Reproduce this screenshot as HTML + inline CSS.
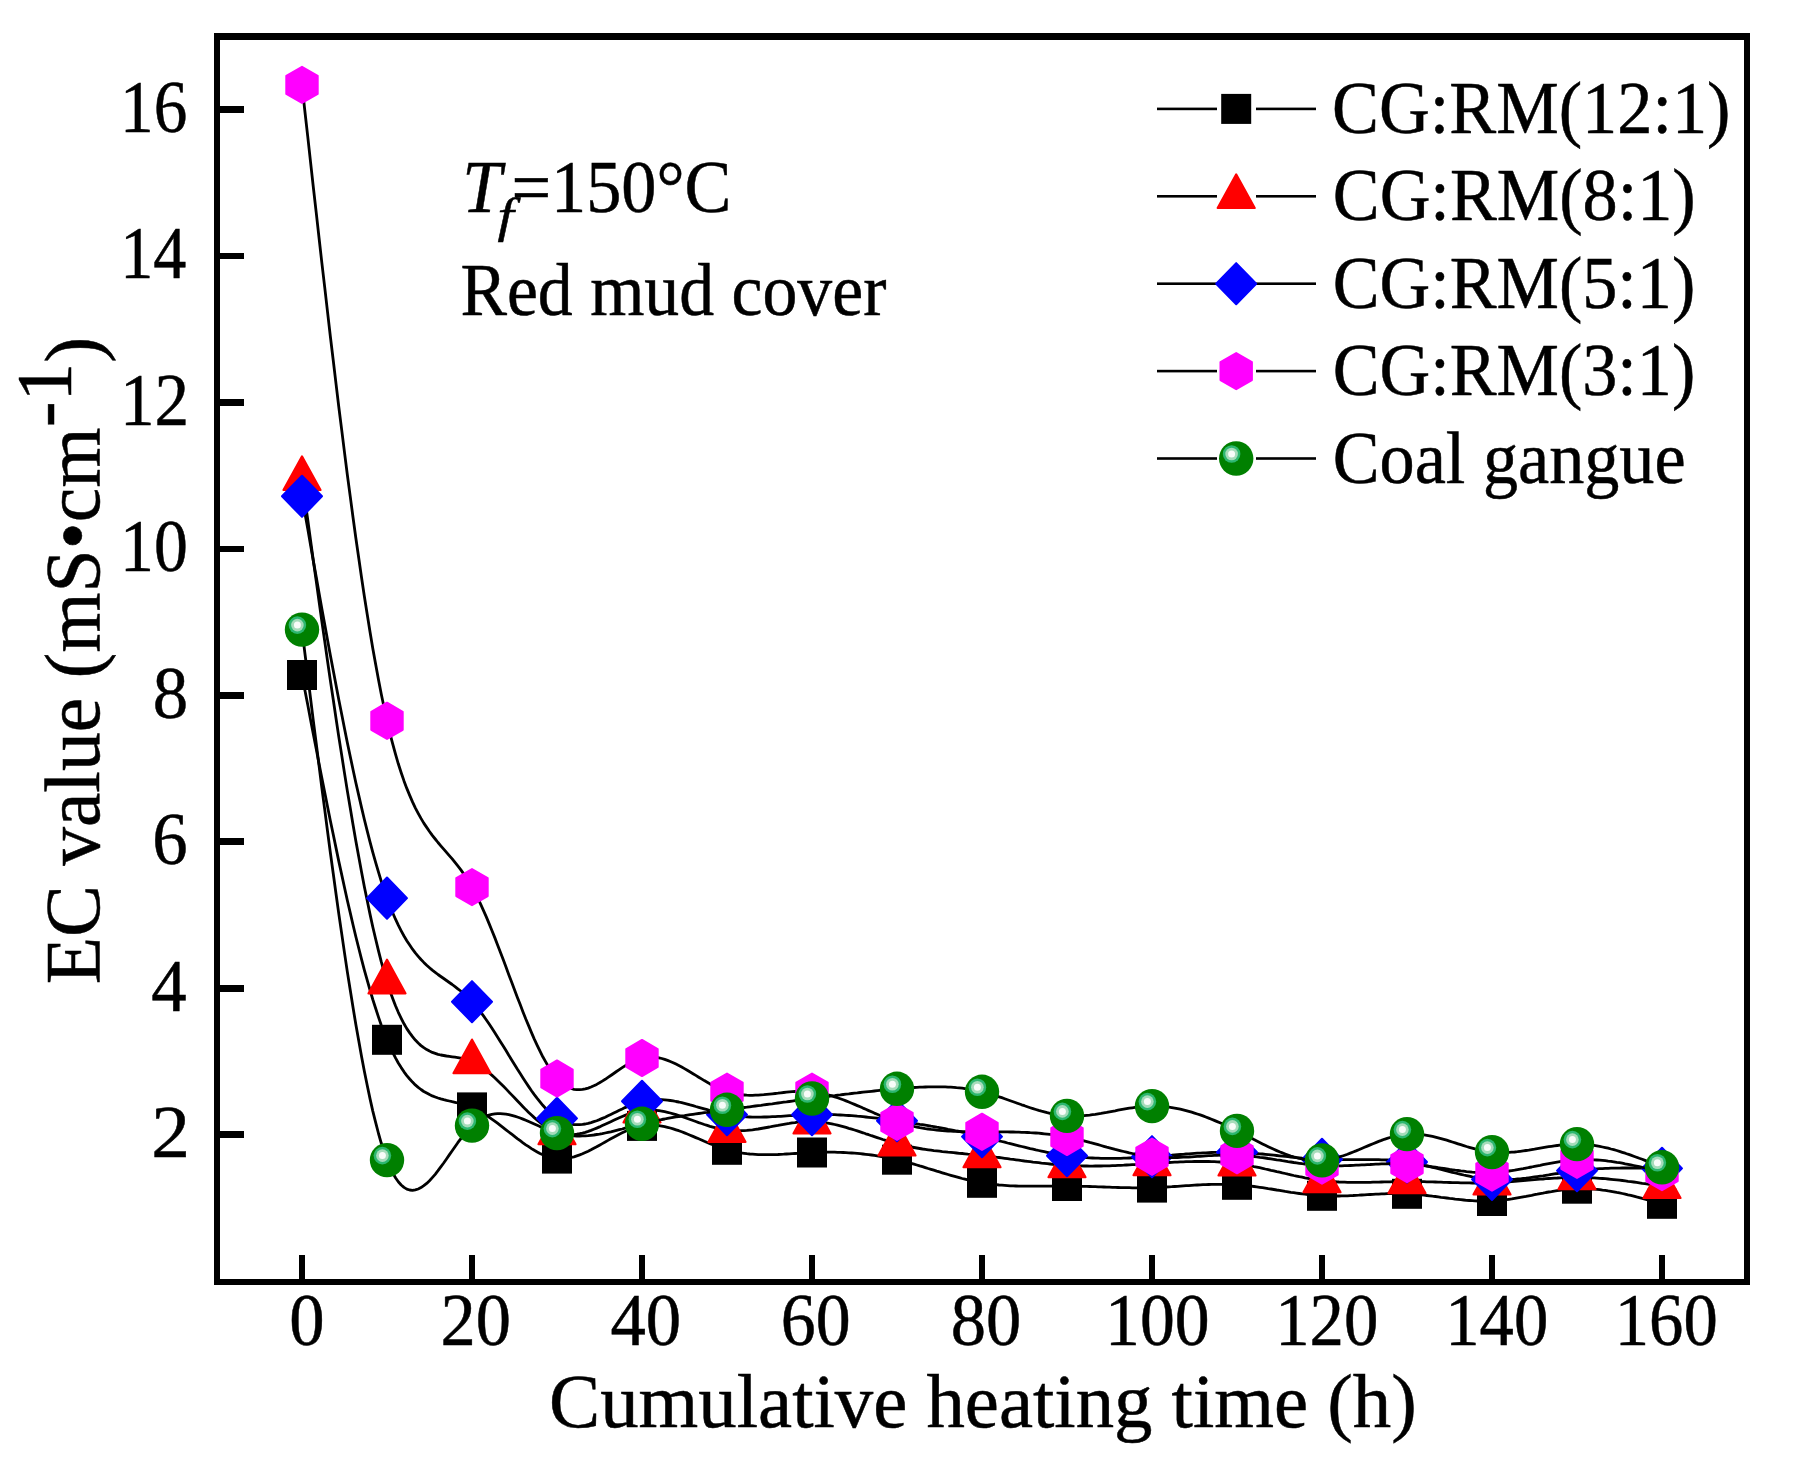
<!DOCTYPE html>
<html><head><meta charset="utf-8"><title>EC value vs cumulative heating time</title>
<style>
html,body{margin:0;padding:0;background:#fff;}
body{width:1793px;height:1466px;overflow:hidden;}
svg{display:block;font-family:"Liberation Serif",serif;fill:#000;}
text{stroke:#000;stroke-width:0.5px;}
</style></head><body>
<svg width="1793" height="1466" viewBox="0 0 1793 1466">
<rect width="1793" height="1466" fill="#fff"/>
<path d="M302.0 675.0L304.8 689.8L307.7 704.6L310.5 719.4L313.3 734.1L316.2 748.8L319.0 763.4L321.8 777.8L324.7 792.2L327.5 806.4L330.3 820.4L333.2 834.3L336.0 847.9L338.8 861.4L341.7 874.6L344.5 887.5L347.3 900.2L350.2 912.6L353.0 924.7L355.8 936.5L358.7 948.0L361.5 959.1L364.3 969.8L367.2 980.1L370.0 990.0L372.8 999.5L375.7 1008.5L378.5 1017.1L381.3 1025.2L384.2 1032.7L387.0 1039.8L389.8 1046.3L392.7 1052.4L395.5 1057.9L398.3 1063.0L401.2 1067.6L404.0 1071.8L406.8 1075.6L409.7 1079.0L412.5 1082.1L415.3 1084.9L418.2 1087.4L421.0 1089.5L423.8 1091.5L426.7 1093.1L429.5 1094.6L432.3 1095.9L435.2 1097.0L438.0 1098.0L440.8 1098.9L443.7 1099.7L446.5 1100.4L449.3 1101.0L452.2 1101.7L455.0 1102.3L457.8 1103.0L460.7 1103.7L463.5 1104.5L466.3 1105.3L469.2 1106.3L472.0 1107.4L474.8 1108.7L477.7 1110.1L480.5 1111.7L483.3 1113.4L486.2 1115.2L489.0 1117.1L491.8 1119.1L494.7 1121.1L497.5 1123.2L500.3 1125.4L503.2 1127.6L506.0 1129.8L508.8 1132.0L511.7 1134.2L514.5 1136.4L517.3 1138.6L520.2 1140.7L523.0 1142.8L525.8 1144.8L528.7 1146.7L531.5 1148.6L534.3 1150.3L537.2 1151.9L540.0 1153.4L542.8 1154.7L545.7 1155.8L548.5 1156.8L551.3 1157.6L554.2 1158.2L557.0 1158.6L559.8 1158.8L562.7 1158.8L565.5 1158.5L568.3 1158.1L571.2 1157.5L574.0 1156.8L576.8 1155.9L579.7 1154.9L582.5 1153.8L585.3 1152.5L588.2 1151.2L591.0 1149.8L593.8 1148.3L596.7 1146.8L599.5 1145.2L602.3 1143.6L605.2 1142.0L608.0 1140.4L610.8 1138.8L613.7 1137.2L616.5 1135.7L619.3 1134.2L622.2 1132.8L625.0 1131.5L627.8 1130.2L630.7 1129.1L633.5 1128.1L636.3 1127.2L639.2 1126.5L642.0 1125.9L644.8 1125.5L647.7 1125.2L650.5 1125.1L653.3 1125.2L656.2 1125.3L659.0 1125.7L661.8 1126.1L664.7 1126.6L667.5 1127.3L670.3 1128.0L673.2 1128.9L676.0 1129.8L678.8 1130.7L681.7 1131.8L684.5 1132.9L687.3 1134.0L690.2 1135.2L693.0 1136.4L695.8 1137.6L698.7 1138.8L701.5 1140.0L704.3 1141.3L707.2 1142.5L710.0 1143.6L712.8 1144.8L715.7 1145.9L718.5 1147.0L721.3 1148.0L724.2 1148.9L727.0 1149.8L729.8 1150.5L732.7 1151.2L735.5 1151.9L738.3 1152.4L741.2 1152.9L744.0 1153.3L746.8 1153.7L749.7 1154.0L752.5 1154.2L755.3 1154.4L758.2 1154.6L761.0 1154.7L763.8 1154.7L766.7 1154.7L769.5 1154.7L772.3 1154.7L775.2 1154.6L778.0 1154.5L780.8 1154.3L783.7 1154.2L786.5 1154.0L789.3 1153.9L792.2 1153.7L795.0 1153.5L797.8 1153.3L800.7 1153.2L803.5 1153.0L806.3 1152.8L809.2 1152.7L812.0 1152.5L814.8 1152.4L817.7 1152.3L820.5 1152.3L823.3 1152.2L826.2 1152.2L829.0 1152.2L831.8 1152.2L834.7 1152.2L837.5 1152.3L840.3 1152.4L843.2 1152.5L846.0 1152.6L848.8 1152.8L851.7 1153.0L854.5 1153.2L857.3 1153.4L860.2 1153.7L863.0 1154.0L865.8 1154.3L868.7 1154.6L871.5 1155.0L874.3 1155.4L877.2 1155.8L880.0 1156.3L882.8 1156.8L885.7 1157.3L888.5 1157.9L891.3 1158.5L894.2 1159.1L897.0 1159.7L899.8 1160.4L902.7 1161.1L905.5 1161.9L908.3 1162.6L911.2 1163.4L914.0 1164.2L916.8 1165.0L919.7 1165.9L922.5 1166.7L925.3 1167.6L928.2 1168.5L931.0 1169.3L933.8 1170.2L936.7 1171.1L939.5 1171.9L942.3 1172.8L945.2 1173.7L948.0 1174.5L950.8 1175.3L953.7 1176.1L956.5 1176.9L959.3 1177.7L962.2 1178.5L965.0 1179.2L967.8 1179.9L970.7 1180.5L973.5 1181.2L976.3 1181.7L979.2 1182.3L982.0 1182.8L984.8 1183.3L987.7 1183.7L990.5 1184.1L993.3 1184.4L996.2 1184.7L999.0 1185.0L1001.8 1185.2L1004.7 1185.4L1007.5 1185.6L1010.3 1185.8L1013.2 1185.9L1016.0 1186.0L1018.8 1186.1L1021.7 1186.1L1024.5 1186.2L1027.3 1186.2L1030.2 1186.2L1033.0 1186.2L1035.8 1186.2L1038.7 1186.2L1041.5 1186.2L1044.3 1186.1L1047.2 1186.1L1050.0 1186.1L1052.8 1186.1L1055.7 1186.0L1058.5 1186.0L1061.3 1186.0L1064.2 1186.0L1067.0 1186.0L1069.8 1186.1L1072.7 1186.1L1075.5 1186.1L1078.3 1186.2L1081.2 1186.3L1084.0 1186.4L1086.8 1186.4L1089.7 1186.5L1092.5 1186.6L1095.3 1186.7L1098.2 1186.8L1101.0 1186.9L1103.8 1187.0L1106.7 1187.1L1109.5 1187.2L1112.3 1187.3L1115.2 1187.4L1118.0 1187.5L1120.8 1187.6L1123.7 1187.6L1126.5 1187.7L1129.3 1187.7L1132.2 1187.8L1135.0 1187.8L1137.8 1187.8L1140.7 1187.8L1143.5 1187.8L1146.3 1187.8L1149.2 1187.7L1152.0 1187.6L1154.8 1187.5L1157.7 1187.4L1160.5 1187.3L1163.3 1187.2L1166.2 1187.0L1169.0 1186.8L1171.8 1186.7L1174.7 1186.5L1177.5 1186.3L1180.3 1186.1L1183.2 1185.9L1186.0 1185.7L1188.8 1185.6L1191.7 1185.4L1194.5 1185.2L1197.3 1185.0L1200.2 1184.9L1203.0 1184.7L1205.8 1184.6L1208.7 1184.5L1211.5 1184.4L1214.3 1184.3L1217.2 1184.3L1220.0 1184.3L1222.8 1184.3L1225.7 1184.3L1228.5 1184.4L1231.3 1184.5L1234.2 1184.6L1237.0 1184.8L1239.8 1185.0L1242.7 1185.2L1245.5 1185.5L1248.3 1185.8L1251.2 1186.1L1254.0 1186.5L1256.8 1186.9L1259.7 1187.3L1262.5 1187.7L1265.3 1188.1L1268.2 1188.6L1271.0 1189.0L1273.8 1189.5L1276.7 1190.0L1279.5 1190.4L1282.3 1190.9L1285.2 1191.4L1288.0 1191.8L1290.8 1192.3L1293.7 1192.7L1296.5 1193.1L1299.3 1193.5L1302.2 1193.9L1305.0 1194.2L1307.8 1194.6L1310.7 1194.9L1313.5 1195.2L1316.3 1195.4L1319.2 1195.6L1322.0 1195.8L1324.8 1195.9L1327.7 1196.0L1330.5 1196.0L1333.3 1196.1L1336.2 1196.0L1339.0 1196.0L1341.8 1195.9L1344.7 1195.9L1347.5 1195.8L1350.3 1195.6L1353.2 1195.5L1356.0 1195.3L1358.8 1195.2L1361.7 1195.0L1364.5 1194.9L1367.3 1194.7L1370.2 1194.5L1373.0 1194.4L1375.8 1194.2L1378.7 1194.1L1381.5 1193.9L1384.3 1193.8L1387.2 1193.7L1390.0 1193.7L1392.8 1193.6L1395.7 1193.6L1398.5 1193.6L1401.3 1193.6L1404.2 1193.7L1407.0 1193.8L1409.8 1193.9L1412.7 1194.1L1415.5 1194.3L1418.3 1194.6L1421.2 1194.9L1424.0 1195.2L1426.8 1195.5L1429.7 1195.8L1432.5 1196.2L1435.3 1196.5L1438.2 1196.9L1441.0 1197.3L1443.8 1197.6L1446.7 1198.0L1449.5 1198.4L1452.3 1198.7L1455.2 1199.1L1458.0 1199.4L1460.8 1199.7L1463.7 1200.0L1466.5 1200.3L1469.3 1200.5L1472.2 1200.7L1475.0 1200.9L1477.8 1201.0L1480.7 1201.1L1483.5 1201.1L1486.3 1201.1L1489.2 1201.1L1492.0 1201.0L1494.8 1200.8L1497.7 1200.6L1500.5 1200.3L1503.3 1200.0L1506.2 1199.7L1509.0 1199.3L1511.8 1198.9L1514.7 1198.4L1517.5 1197.9L1520.3 1197.4L1523.2 1196.9L1526.0 1196.4L1528.8 1195.8L1531.7 1195.3L1534.5 1194.7L1537.3 1194.2L1540.2 1193.6L1543.0 1193.1L1545.8 1192.5L1548.7 1192.0L1551.5 1191.6L1554.3 1191.1L1557.2 1190.7L1560.0 1190.3L1562.8 1189.9L1565.7 1189.6L1568.5 1189.3L1571.3 1189.0L1574.2 1188.9L1577.0 1188.7L1579.8 1188.7L1582.7 1188.7L1585.5 1188.7L1588.3 1188.8L1591.2 1189.0L1594.0 1189.2L1596.8 1189.4L1599.7 1189.7L1602.5 1190.1L1605.3 1190.4L1608.2 1190.9L1611.0 1191.3L1613.8 1191.8L1616.7 1192.4L1619.5 1192.9L1622.3 1193.5L1625.2 1194.1L1628.0 1194.8L1630.8 1195.4L1633.7 1196.1L1636.5 1196.9L1639.3 1197.6L1642.2 1198.3L1645.0 1199.1L1647.8 1199.9L1650.7 1200.6L1653.5 1201.4L1656.3 1202.2L1659.2 1203.0L1662.0 1203.8" fill="none" stroke="#000" stroke-width="2.8" stroke-linejoin="round"/>
<g><rect x="287.0" y="660.0" width="30" height="30" fill="#000"/><rect x="372.0" y="1024.8" width="30" height="30" fill="#000"/><rect x="457.0" y="1092.4" width="30" height="30" fill="#000"/><rect x="542.0" y="1143.6" width="30" height="30" fill="#000"/><rect x="627.0" y="1110.9" width="30" height="30" fill="#000"/><rect x="712.0" y="1134.8" width="30" height="30" fill="#000"/><rect x="797.0" y="1137.5" width="30" height="30" fill="#000"/><rect x="882.0" y="1144.7" width="30" height="30" fill="#000"/><rect x="967.0" y="1167.8" width="30" height="30" fill="#000"/><rect x="1052.0" y="1171.0" width="30" height="30" fill="#000"/><rect x="1137.0" y="1172.6" width="30" height="30" fill="#000"/><rect x="1222.0" y="1169.8" width="30" height="30" fill="#000"/><rect x="1307.0" y="1180.8" width="30" height="30" fill="#000"/><rect x="1392.0" y="1178.8" width="30" height="30" fill="#000"/><rect x="1477.0" y="1186.0" width="30" height="30" fill="#000"/><rect x="1562.0" y="1173.7" width="30" height="30" fill="#000"/><rect x="1647.0" y="1188.8" width="30" height="30" fill="#000"/></g>
<path d="M302.0 478.3L304.8 498.9L307.7 519.5L310.5 540.0L313.3 560.5L316.2 580.8L319.0 601.1L321.8 621.1L324.7 641.0L327.5 660.7L330.3 680.1L333.2 699.3L336.0 718.3L338.8 736.9L341.7 755.1L344.5 773.1L347.3 790.6L350.2 807.7L353.0 824.4L355.8 840.7L358.7 856.4L361.5 871.7L364.3 886.4L367.2 900.5L370.0 914.1L372.8 927.0L375.7 939.3L378.5 950.9L381.3 961.9L384.2 972.1L387.0 981.6L389.8 990.4L392.7 998.4L395.5 1005.7L398.3 1012.3L401.2 1018.3L404.0 1023.8L406.8 1028.6L409.7 1032.9L412.5 1036.7L415.3 1040.1L418.2 1043.0L421.0 1045.6L423.8 1047.7L426.7 1049.6L429.5 1051.1L432.3 1052.4L435.2 1053.4L438.0 1054.3L440.8 1055.0L443.7 1055.5L446.5 1056.0L449.3 1056.4L452.2 1056.8L455.0 1057.2L457.8 1057.6L460.7 1058.1L463.5 1058.7L466.3 1059.4L469.2 1060.4L472.0 1061.5L474.8 1062.8L477.7 1064.4L480.5 1066.2L483.3 1068.2L486.2 1070.3L489.0 1072.7L491.8 1075.1L494.7 1077.7L497.5 1080.4L500.3 1083.2L503.2 1086.0L506.0 1088.9L508.8 1091.9L511.7 1094.9L514.5 1097.8L517.3 1100.8L520.2 1103.8L523.0 1106.7L525.8 1109.6L528.7 1112.4L531.5 1115.0L534.3 1117.6L537.2 1120.1L540.0 1122.4L542.8 1124.6L545.7 1126.6L548.5 1128.4L551.3 1130.0L554.2 1131.4L557.0 1132.5L559.8 1133.4L562.7 1134.1L565.5 1134.5L568.3 1134.7L571.2 1134.7L574.0 1134.6L576.8 1134.2L579.7 1133.7L582.5 1133.1L585.3 1132.3L588.2 1131.4L591.0 1130.4L593.8 1129.3L596.7 1128.1L599.5 1126.9L602.3 1125.6L605.2 1124.3L608.0 1123.0L610.8 1121.7L613.7 1120.3L616.5 1119.0L619.3 1117.8L622.2 1116.5L625.0 1115.4L627.8 1114.3L630.7 1113.3L633.5 1112.4L636.3 1111.7L639.2 1111.1L642.0 1110.6L644.8 1110.2L647.7 1110.1L650.5 1110.0L653.3 1110.1L656.2 1110.4L659.0 1110.7L661.8 1111.1L664.7 1111.7L667.5 1112.3L670.3 1113.0L673.2 1113.8L676.0 1114.7L678.8 1115.6L681.7 1116.5L684.5 1117.5L687.3 1118.5L690.2 1119.5L693.0 1120.5L695.8 1121.5L698.7 1122.6L701.5 1123.5L704.3 1124.5L707.2 1125.4L710.0 1126.3L712.8 1127.1L715.7 1127.9L718.5 1128.6L721.3 1129.2L724.2 1129.7L727.0 1130.1L729.8 1130.4L732.7 1130.6L735.5 1130.8L738.3 1130.8L741.2 1130.7L744.0 1130.6L746.8 1130.4L749.7 1130.1L752.5 1129.8L755.3 1129.4L758.2 1129.0L761.0 1128.5L763.8 1128.0L766.7 1127.5L769.5 1127.0L772.3 1126.4L775.2 1125.9L778.0 1125.4L780.8 1124.8L783.7 1124.3L786.5 1123.8L789.3 1123.4L792.2 1122.9L795.0 1122.6L797.8 1122.2L800.7 1122.0L803.5 1121.8L806.3 1121.6L809.2 1121.5L812.0 1121.6L814.8 1121.7L817.7 1121.9L820.5 1122.1L823.3 1122.5L826.2 1122.9L829.0 1123.4L831.8 1123.9L834.7 1124.5L837.5 1125.2L840.3 1125.9L843.2 1126.6L846.0 1127.4L848.8 1128.3L851.7 1129.1L854.5 1130.0L857.3 1130.9L860.2 1131.9L863.0 1132.8L865.8 1133.8L868.7 1134.7L871.5 1135.7L874.3 1136.6L877.2 1137.6L880.0 1138.5L882.8 1139.5L885.7 1140.4L888.5 1141.2L891.3 1142.1L894.2 1142.9L897.0 1143.7L899.8 1144.4L902.7 1145.1L905.5 1145.8L908.3 1146.4L911.2 1147.0L914.0 1147.5L916.8 1148.0L919.7 1148.5L922.5 1149.0L925.3 1149.4L928.2 1149.8L931.0 1150.2L933.8 1150.6L936.7 1150.9L939.5 1151.2L942.3 1151.6L945.2 1151.9L948.0 1152.2L950.8 1152.4L953.7 1152.7L956.5 1153.0L959.3 1153.3L962.2 1153.5L965.0 1153.8L967.8 1154.1L970.7 1154.3L973.5 1154.6L976.3 1154.9L979.2 1155.2L982.0 1155.5L984.8 1155.8L987.7 1156.1L990.5 1156.5L993.3 1156.8L996.2 1157.2L999.0 1157.5L1001.8 1157.9L1004.7 1158.3L1007.5 1158.7L1010.3 1159.1L1013.2 1159.4L1016.0 1159.8L1018.8 1160.2L1021.7 1160.6L1024.5 1161.0L1027.3 1161.3L1030.2 1161.7L1033.0 1162.1L1035.8 1162.4L1038.7 1162.7L1041.5 1163.1L1044.3 1163.4L1047.2 1163.7L1050.0 1164.0L1052.8 1164.3L1055.7 1164.5L1058.5 1164.8L1061.3 1165.0L1064.2 1165.2L1067.0 1165.4L1069.8 1165.5L1072.7 1165.7L1075.5 1165.8L1078.3 1165.9L1081.2 1165.9L1084.0 1166.0L1086.8 1166.0L1089.7 1166.1L1092.5 1166.1L1095.3 1166.0L1098.2 1166.0L1101.0 1166.0L1103.8 1165.9L1106.7 1165.8L1109.5 1165.8L1112.3 1165.7L1115.2 1165.6L1118.0 1165.4L1120.8 1165.3L1123.7 1165.2L1126.5 1165.0L1129.3 1164.9L1132.2 1164.7L1135.0 1164.6L1137.8 1164.4L1140.7 1164.2L1143.5 1164.1L1146.3 1163.9L1149.2 1163.7L1152.0 1163.5L1154.8 1163.4L1157.7 1163.2L1160.5 1163.0L1163.3 1162.8L1166.2 1162.7L1169.0 1162.5L1171.8 1162.3L1174.7 1162.2L1177.5 1162.1L1180.3 1161.9L1183.2 1161.8L1186.0 1161.7L1188.8 1161.6L1191.7 1161.6L1194.5 1161.5L1197.3 1161.5L1200.2 1161.5L1203.0 1161.5L1205.8 1161.5L1208.7 1161.5L1211.5 1161.6L1214.3 1161.7L1217.2 1161.9L1220.0 1162.0L1222.8 1162.2L1225.7 1162.4L1228.5 1162.7L1231.3 1163.0L1234.2 1163.3L1237.0 1163.7L1239.8 1164.1L1242.7 1164.5L1245.5 1165.0L1248.3 1165.5L1251.2 1166.0L1254.0 1166.6L1256.8 1167.1L1259.7 1167.7L1262.5 1168.3L1265.3 1169.0L1268.2 1169.6L1271.0 1170.3L1273.8 1170.9L1276.7 1171.6L1279.5 1172.2L1282.3 1172.9L1285.2 1173.5L1288.0 1174.2L1290.8 1174.8L1293.7 1175.5L1296.5 1176.1L1299.3 1176.7L1302.2 1177.2L1305.0 1177.8L1307.8 1178.3L1310.7 1178.8L1313.5 1179.3L1316.3 1179.8L1319.2 1180.2L1322.0 1180.5L1324.8 1180.9L1327.7 1181.2L1330.5 1181.4L1333.3 1181.6L1336.2 1181.8L1339.0 1182.0L1341.8 1182.1L1344.7 1182.2L1347.5 1182.3L1350.3 1182.4L1353.2 1182.4L1356.0 1182.4L1358.8 1182.4L1361.7 1182.4L1364.5 1182.4L1367.3 1182.3L1370.2 1182.3L1373.0 1182.2L1375.8 1182.1L1378.7 1182.1L1381.5 1182.0L1384.3 1181.9L1387.2 1181.8L1390.0 1181.8L1392.8 1181.7L1395.7 1181.6L1398.5 1181.6L1401.3 1181.5L1404.2 1181.5L1407.0 1181.5L1409.8 1181.5L1412.7 1181.5L1415.5 1181.5L1418.3 1181.6L1421.2 1181.6L1424.0 1181.7L1426.8 1181.8L1429.7 1181.8L1432.5 1181.9L1435.3 1182.0L1438.2 1182.1L1441.0 1182.2L1443.8 1182.3L1446.7 1182.4L1449.5 1182.5L1452.3 1182.6L1455.2 1182.6L1458.0 1182.7L1460.8 1182.8L1463.7 1182.8L1466.5 1182.9L1469.3 1182.9L1472.2 1183.0L1475.0 1183.0L1477.8 1183.0L1480.7 1183.0L1483.5 1182.9L1486.3 1182.9L1489.2 1182.8L1492.0 1182.7L1494.8 1182.6L1497.7 1182.5L1500.5 1182.3L1503.3 1182.2L1506.2 1182.0L1509.0 1181.8L1511.8 1181.6L1514.7 1181.4L1517.5 1181.1L1520.3 1180.9L1523.2 1180.6L1526.0 1180.4L1528.8 1180.2L1531.7 1179.9L1534.5 1179.7L1537.3 1179.4L1540.2 1179.2L1543.0 1179.0L1545.8 1178.7L1548.7 1178.5L1551.5 1178.3L1554.3 1178.1L1557.2 1178.0L1560.0 1177.8L1562.8 1177.7L1565.7 1177.6L1568.5 1177.5L1571.3 1177.4L1574.2 1177.4L1577.0 1177.4L1579.8 1177.4L1582.7 1177.5L1585.5 1177.5L1588.3 1177.6L1591.2 1177.8L1594.0 1177.9L1596.8 1178.1L1599.7 1178.3L1602.5 1178.5L1605.3 1178.7L1608.2 1179.0L1611.0 1179.3L1613.8 1179.6L1616.7 1179.9L1619.5 1180.2L1622.3 1180.5L1625.2 1180.9L1628.0 1181.3L1630.8 1181.6L1633.7 1182.0L1636.5 1182.4L1639.3 1182.8L1642.2 1183.3L1645.0 1183.7L1647.8 1184.1L1650.7 1184.6L1653.5 1185.0L1656.3 1185.4L1659.2 1185.9L1662.0 1186.3" fill="none" stroke="#000" stroke-width="2.8" stroke-linejoin="round"/>
<g><path d="M302.0 456.3L320.6 490.1L283.4 490.1Z" fill="#f00" stroke="#f00" stroke-width="2" stroke-linejoin="round"/><path d="M387.0 959.6L405.6 993.4L368.4 993.4Z" fill="#f00" stroke="#f00" stroke-width="2" stroke-linejoin="round"/><path d="M472.0 1039.5L490.6 1073.3L453.4 1073.3Z" fill="#f00" stroke="#f00" stroke-width="2" stroke-linejoin="round"/><path d="M557.0 1110.5L575.6 1144.3L538.4 1144.3Z" fill="#f00" stroke="#f00" stroke-width="2" stroke-linejoin="round"/><path d="M642.0 1088.6L660.6 1122.4L623.4 1122.4Z" fill="#f00" stroke="#f00" stroke-width="2" stroke-linejoin="round"/><path d="M727.0 1108.1L745.6 1141.9L708.4 1141.9Z" fill="#f00" stroke="#f00" stroke-width="2" stroke-linejoin="round"/><path d="M812.0 1099.6L830.6 1133.4L793.4 1133.4Z" fill="#f00" stroke="#f00" stroke-width="2" stroke-linejoin="round"/><path d="M897.0 1121.7L915.6 1155.5L878.4 1155.5Z" fill="#f00" stroke="#f00" stroke-width="2" stroke-linejoin="round"/><path d="M982.0 1133.5L1000.6 1167.3L963.4 1167.3Z" fill="#f00" stroke="#f00" stroke-width="2" stroke-linejoin="round"/><path d="M1067.0 1143.4L1085.6 1177.2L1048.4 1177.2Z" fill="#f00" stroke="#f00" stroke-width="2" stroke-linejoin="round"/><path d="M1152.0 1141.5L1170.6 1175.3L1133.4 1175.3Z" fill="#f00" stroke="#f00" stroke-width="2" stroke-linejoin="round"/><path d="M1237.0 1141.7L1255.6 1175.5L1218.4 1175.5Z" fill="#f00" stroke="#f00" stroke-width="2" stroke-linejoin="round"/><path d="M1322.0 1158.5L1340.6 1192.3L1303.4 1192.3Z" fill="#f00" stroke="#f00" stroke-width="2" stroke-linejoin="round"/><path d="M1407.0 1159.5L1425.6 1193.3L1388.4 1193.3Z" fill="#f00" stroke="#f00" stroke-width="2" stroke-linejoin="round"/><path d="M1492.0 1160.7L1510.6 1194.5L1473.4 1194.5Z" fill="#f00" stroke="#f00" stroke-width="2" stroke-linejoin="round"/><path d="M1577.0 1155.4L1595.6 1189.2L1558.4 1189.2Z" fill="#f00" stroke="#f00" stroke-width="2" stroke-linejoin="round"/><path d="M1662.0 1164.3L1680.6 1198.1L1643.4 1198.1Z" fill="#f00" stroke="#f00" stroke-width="2" stroke-linejoin="round"/></g>
<path d="M302.0 496.3L304.8 512.5L307.7 528.6L310.5 544.7L313.3 560.8L316.2 576.8L319.0 592.7L321.8 608.5L324.7 624.2L327.5 639.7L330.3 655.0L333.2 670.2L336.0 685.1L338.8 699.8L341.7 714.3L344.5 728.6L347.3 742.5L350.2 756.2L353.0 769.5L355.8 782.5L358.7 795.1L361.5 807.4L364.3 819.3L367.2 830.8L370.0 841.8L372.8 852.4L375.7 862.6L378.5 872.2L381.3 881.4L384.2 890.0L387.0 898.1L389.8 905.7L392.7 912.7L395.5 919.2L398.3 925.2L401.2 930.8L404.0 936.0L406.8 940.7L409.7 945.1L412.5 949.2L415.3 952.9L418.2 956.3L421.0 959.5L423.8 962.4L426.7 965.2L429.5 967.7L432.3 970.1L435.2 972.3L438.0 974.5L440.8 976.5L443.7 978.5L446.5 980.5L449.3 982.5L452.2 984.5L455.0 986.6L457.8 988.8L460.7 991.0L463.5 993.4L466.3 996.0L469.2 998.7L472.0 1001.7L474.8 1004.9L477.7 1008.3L480.5 1011.9L483.3 1015.7L486.2 1019.7L489.0 1023.8L491.8 1028.1L494.7 1032.5L497.5 1036.9L500.3 1041.4L503.2 1046.0L506.0 1050.6L508.8 1055.3L511.7 1059.9L514.5 1064.5L517.3 1069.1L520.2 1073.6L523.0 1078.0L525.8 1082.3L528.7 1086.6L531.5 1090.7L534.3 1094.6L537.2 1098.4L540.0 1101.9L542.8 1105.3L545.7 1108.5L548.5 1111.4L551.3 1114.0L554.2 1116.4L557.0 1118.4L559.8 1120.1L562.7 1121.6L565.5 1122.7L568.3 1123.6L571.2 1124.2L574.0 1124.6L576.8 1124.7L579.7 1124.7L582.5 1124.4L585.3 1124.0L588.2 1123.4L591.0 1122.6L593.8 1121.7L596.7 1120.7L599.5 1119.6L602.3 1118.4L605.2 1117.2L608.0 1115.8L610.8 1114.5L613.7 1113.1L616.5 1111.7L619.3 1110.3L622.2 1109.0L625.0 1107.6L627.8 1106.4L630.7 1105.2L633.5 1104.0L636.3 1103.0L639.2 1102.1L642.0 1101.3L644.8 1100.7L647.7 1100.2L650.5 1099.9L653.3 1099.6L656.2 1099.5L659.0 1099.5L661.8 1099.6L664.7 1099.8L667.5 1100.1L670.3 1100.5L673.2 1100.9L676.0 1101.5L678.8 1102.0L681.7 1102.7L684.5 1103.4L687.3 1104.1L690.2 1104.9L693.0 1105.6L695.8 1106.5L698.7 1107.3L701.5 1108.1L704.3 1108.9L707.2 1109.7L710.0 1110.5L712.8 1111.3L715.7 1112.1L718.5 1112.8L721.3 1113.4L724.2 1114.0L727.0 1114.6L729.8 1115.1L732.7 1115.5L735.5 1115.9L738.3 1116.2L741.2 1116.5L744.0 1116.7L746.8 1116.9L749.7 1117.0L752.5 1117.1L755.3 1117.1L758.2 1117.1L761.0 1117.1L763.8 1117.0L766.7 1117.0L769.5 1116.9L772.3 1116.7L775.2 1116.6L778.0 1116.4L780.8 1116.3L783.7 1116.1L786.5 1115.9L789.3 1115.7L792.2 1115.6L795.0 1115.4L797.8 1115.2L800.7 1115.1L803.5 1114.9L806.3 1114.8L809.2 1114.7L812.0 1114.6L814.8 1114.5L817.7 1114.5L820.5 1114.5L823.3 1114.5L826.2 1114.5L829.0 1114.6L831.8 1114.6L834.7 1114.7L837.5 1114.9L840.3 1115.0L843.2 1115.1L846.0 1115.3L848.8 1115.5L851.7 1115.7L854.5 1115.9L857.3 1116.2L860.2 1116.4L863.0 1116.7L865.8 1117.0L868.7 1117.3L871.5 1117.6L874.3 1117.9L877.2 1118.2L880.0 1118.6L882.8 1118.9L885.7 1119.3L888.5 1119.7L891.3 1120.0L894.2 1120.4L897.0 1120.8L899.8 1121.2L902.7 1121.6L905.5 1122.1L908.3 1122.5L911.2 1122.9L914.0 1123.4L916.8 1123.8L919.7 1124.3L922.5 1124.7L925.3 1125.2L928.2 1125.7L931.0 1126.2L933.8 1126.6L936.7 1127.2L939.5 1127.7L942.3 1128.2L945.2 1128.7L948.0 1129.3L950.8 1129.8L953.7 1130.4L956.5 1131.0L959.3 1131.5L962.2 1132.1L965.0 1132.7L967.8 1133.3L970.7 1134.0L973.5 1134.6L976.3 1135.3L979.2 1135.9L982.0 1136.6L984.8 1137.3L987.7 1138.0L990.5 1138.7L993.3 1139.4L996.2 1140.1L999.0 1140.8L1001.8 1141.5L1004.7 1142.2L1007.5 1143.0L1010.3 1143.7L1013.2 1144.4L1016.0 1145.1L1018.8 1145.8L1021.7 1146.5L1024.5 1147.2L1027.3 1147.9L1030.2 1148.6L1033.0 1149.2L1035.8 1149.9L1038.7 1150.5L1041.5 1151.1L1044.3 1151.7L1047.2 1152.3L1050.0 1152.9L1052.8 1153.4L1055.7 1153.9L1058.5 1154.4L1061.3 1154.9L1064.2 1155.3L1067.0 1155.7L1069.8 1156.1L1072.7 1156.4L1075.5 1156.7L1078.3 1157.0L1081.2 1157.3L1084.0 1157.5L1086.8 1157.7L1089.7 1157.9L1092.5 1158.0L1095.3 1158.1L1098.2 1158.2L1101.0 1158.3L1103.8 1158.4L1106.7 1158.4L1109.5 1158.4L1112.3 1158.4L1115.2 1158.4L1118.0 1158.4L1120.8 1158.3L1123.7 1158.2L1126.5 1158.1L1129.3 1158.0L1132.2 1157.9L1135.0 1157.8L1137.8 1157.6L1140.7 1157.5L1143.5 1157.3L1146.3 1157.1L1149.2 1156.9L1152.0 1156.7L1154.8 1156.5L1157.7 1156.3L1160.5 1156.1L1163.3 1155.9L1166.2 1155.6L1169.0 1155.4L1171.8 1155.2L1174.7 1154.9L1177.5 1154.7L1180.3 1154.5L1183.2 1154.3L1186.0 1154.0L1188.8 1153.8L1191.7 1153.6L1194.5 1153.4L1197.3 1153.2L1200.2 1153.1L1203.0 1152.9L1205.8 1152.8L1208.7 1152.6L1211.5 1152.5L1214.3 1152.4L1217.2 1152.3L1220.0 1152.2L1222.8 1152.2L1225.7 1152.2L1228.5 1152.2L1231.3 1152.2L1234.2 1152.3L1237.0 1152.3L1239.8 1152.4L1242.7 1152.6L1245.5 1152.7L1248.3 1152.9L1251.2 1153.1L1254.0 1153.3L1256.8 1153.5L1259.7 1153.8L1262.5 1154.0L1265.3 1154.3L1268.2 1154.6L1271.0 1154.9L1273.8 1155.2L1276.7 1155.5L1279.5 1155.8L1282.3 1156.1L1285.2 1156.4L1288.0 1156.7L1290.8 1157.0L1293.7 1157.3L1296.5 1157.6L1299.3 1157.8L1302.2 1158.1L1305.0 1158.3L1307.8 1158.6L1310.7 1158.8L1313.5 1159.0L1316.3 1159.2L1319.2 1159.3L1322.0 1159.4L1324.8 1159.5L1327.7 1159.6L1330.5 1159.7L1333.3 1159.7L1336.2 1159.7L1339.0 1159.7L1341.8 1159.7L1344.7 1159.7L1347.5 1159.7L1350.3 1159.7L1353.2 1159.6L1356.0 1159.6L1358.8 1159.6L1361.7 1159.6L1364.5 1159.6L1367.3 1159.6L1370.2 1159.6L1373.0 1159.6L1375.8 1159.6L1378.7 1159.7L1381.5 1159.8L1384.3 1159.9L1387.2 1160.0L1390.0 1160.2L1392.8 1160.4L1395.7 1160.7L1398.5 1160.9L1401.3 1161.2L1404.2 1161.6L1407.0 1162.0L1409.8 1162.4L1412.7 1162.9L1415.5 1163.5L1418.3 1164.0L1421.2 1164.6L1424.0 1165.3L1426.8 1165.9L1429.7 1166.6L1432.5 1167.3L1435.3 1168.0L1438.2 1168.7L1441.0 1169.4L1443.8 1170.1L1446.7 1170.9L1449.5 1171.6L1452.3 1172.3L1455.2 1173.0L1458.0 1173.7L1460.8 1174.3L1463.7 1175.0L1466.5 1175.6L1469.3 1176.2L1472.2 1176.8L1475.0 1177.3L1477.8 1177.8L1480.7 1178.2L1483.5 1178.6L1486.3 1178.9L1489.2 1179.2L1492.0 1179.4L1494.8 1179.6L1497.7 1179.7L1500.5 1179.8L1503.3 1179.8L1506.2 1179.7L1509.0 1179.6L1511.8 1179.4L1514.7 1179.3L1517.5 1179.0L1520.3 1178.8L1523.2 1178.5L1526.0 1178.2L1528.8 1177.8L1531.7 1177.4L1534.5 1177.0L1537.3 1176.6L1540.2 1176.2L1543.0 1175.8L1545.8 1175.3L1548.7 1174.9L1551.5 1174.4L1554.3 1173.9L1557.2 1173.5L1560.0 1173.0L1562.8 1172.6L1565.7 1172.2L1568.5 1171.8L1571.3 1171.4L1574.2 1171.0L1577.0 1170.6L1579.8 1170.3L1582.7 1170.0L1585.5 1169.7L1588.3 1169.5L1591.2 1169.3L1594.0 1169.1L1596.8 1168.9L1599.7 1168.7L1602.5 1168.6L1605.3 1168.4L1608.2 1168.3L1611.0 1168.2L1613.8 1168.2L1616.7 1168.1L1619.5 1168.1L1622.3 1168.0L1625.2 1168.0L1628.0 1168.0L1630.8 1168.0L1633.7 1168.0L1636.5 1168.0L1639.3 1168.0L1642.2 1168.1L1645.0 1168.1L1647.8 1168.2L1650.7 1168.2L1653.5 1168.3L1656.3 1168.3L1659.2 1168.4L1662.0 1168.4" fill="none" stroke="#000" stroke-width="2.8" stroke-linejoin="round"/>
<g><path d="M302.0 475.7L322.0 496.3L302.0 516.9L282.0 496.3Z" fill="#00f" stroke="#00f" stroke-width="2" stroke-linejoin="round"/><path d="M387.0 877.5L407.0 898.1L387.0 918.7L367.0 898.1Z" fill="#00f" stroke="#00f" stroke-width="2" stroke-linejoin="round"/><path d="M472.0 981.1L492.0 1001.7L472.0 1022.3L452.0 1001.7Z" fill="#00f" stroke="#00f" stroke-width="2" stroke-linejoin="round"/><path d="M557.0 1097.8L577.0 1118.4L557.0 1139.0L537.0 1118.4Z" fill="#00f" stroke="#00f" stroke-width="2" stroke-linejoin="round"/><path d="M642.0 1080.7L662.0 1101.3L642.0 1121.9L622.0 1101.3Z" fill="#00f" stroke="#00f" stroke-width="2" stroke-linejoin="round"/><path d="M727.0 1094.0L747.0 1114.6L727.0 1135.2L707.0 1114.6Z" fill="#00f" stroke="#00f" stroke-width="2" stroke-linejoin="round"/><path d="M812.0 1094.0L832.0 1114.6L812.0 1135.2L792.0 1114.6Z" fill="#00f" stroke="#00f" stroke-width="2" stroke-linejoin="round"/><path d="M897.0 1100.2L917.0 1120.8L897.0 1141.4L877.0 1120.8Z" fill="#00f" stroke="#00f" stroke-width="2" stroke-linejoin="round"/><path d="M982.0 1116.0L1002.0 1136.6L982.0 1157.2L962.0 1136.6Z" fill="#00f" stroke="#00f" stroke-width="2" stroke-linejoin="round"/><path d="M1067.0 1135.1L1087.0 1155.7L1067.0 1176.3L1047.0 1155.7Z" fill="#00f" stroke="#00f" stroke-width="2" stroke-linejoin="round"/><path d="M1152.0 1136.1L1172.0 1156.7L1152.0 1177.3L1132.0 1156.7Z" fill="#00f" stroke="#00f" stroke-width="2" stroke-linejoin="round"/><path d="M1237.0 1131.7L1257.0 1152.3L1237.0 1172.9L1217.0 1152.3Z" fill="#00f" stroke="#00f" stroke-width="2" stroke-linejoin="round"/><path d="M1322.0 1138.8L1342.0 1159.4L1322.0 1180.0L1302.0 1159.4Z" fill="#00f" stroke="#00f" stroke-width="2" stroke-linejoin="round"/><path d="M1407.0 1141.4L1427.0 1162.0L1407.0 1182.6L1387.0 1162.0Z" fill="#00f" stroke="#00f" stroke-width="2" stroke-linejoin="round"/><path d="M1492.0 1158.8L1512.0 1179.4L1492.0 1200.0L1472.0 1179.4Z" fill="#00f" stroke="#00f" stroke-width="2" stroke-linejoin="round"/><path d="M1577.0 1150.0L1597.0 1170.6L1577.0 1191.2L1557.0 1170.6Z" fill="#00f" stroke="#00f" stroke-width="2" stroke-linejoin="round"/><path d="M1662.0 1147.8L1682.0 1168.4L1662.0 1189.0L1642.0 1168.4Z" fill="#00f" stroke="#00f" stroke-width="2" stroke-linejoin="round"/></g>
<path d="M302.0 84.9L304.8 110.5L307.7 136.1L310.5 161.6L313.3 187.0L316.2 212.3L319.0 237.5L321.8 262.4L324.7 287.2L327.5 311.7L330.3 336.0L333.2 360.0L336.0 383.7L338.8 407.0L341.7 429.9L344.5 452.4L347.3 474.5L350.2 496.1L353.0 517.2L355.8 537.7L358.7 557.8L361.5 577.2L364.3 596.0L367.2 614.2L370.0 631.7L372.8 648.5L375.7 664.5L378.5 679.8L381.3 694.3L384.2 708.0L387.0 720.8L389.8 732.8L392.7 743.9L395.5 754.2L398.3 763.8L401.2 772.7L404.0 780.9L406.8 788.4L409.7 795.4L412.5 801.9L415.3 807.8L418.2 813.3L421.0 818.4L423.8 823.1L426.7 827.4L429.5 831.5L432.3 835.4L435.2 839.0L438.0 842.5L440.8 845.8L443.7 849.1L446.5 852.4L449.3 855.6L452.2 858.9L455.0 862.4L457.8 865.9L460.7 869.6L463.5 873.6L466.3 877.8L469.2 882.3L472.0 887.1L474.8 892.4L477.7 898.0L480.5 903.9L483.3 910.1L486.2 916.6L489.0 923.4L491.8 930.3L494.7 937.4L497.5 944.7L500.3 952.1L503.2 959.6L506.0 967.1L508.8 974.7L511.7 982.3L514.5 989.8L517.3 997.3L520.2 1004.6L523.0 1011.9L525.8 1019.0L528.7 1025.9L531.5 1032.6L534.3 1039.1L537.2 1045.3L540.0 1051.2L542.8 1056.8L545.7 1061.9L548.5 1066.7L551.3 1071.1L554.2 1075.0L557.0 1078.5L559.8 1081.4L562.7 1083.9L565.5 1085.8L568.3 1087.4L571.2 1088.5L574.0 1089.3L576.8 1089.6L579.7 1089.7L582.5 1089.4L585.3 1088.9L588.2 1088.1L591.0 1087.0L593.8 1085.8L596.7 1084.4L599.5 1082.8L602.3 1081.1L605.2 1079.3L608.0 1077.4L610.8 1075.5L613.7 1073.5L616.5 1071.5L619.3 1069.6L622.2 1067.7L625.0 1065.9L627.8 1064.1L630.7 1062.6L633.5 1061.1L636.3 1059.9L639.2 1058.8L642.0 1058.0L644.8 1057.4L647.7 1057.1L650.5 1057.0L653.3 1057.1L656.2 1057.4L659.0 1057.9L661.8 1058.5L664.7 1059.4L667.5 1060.4L670.3 1061.5L673.2 1062.7L676.0 1064.1L678.8 1065.5L681.7 1067.0L684.5 1068.6L687.3 1070.3L690.2 1072.0L693.0 1073.7L695.8 1075.4L698.7 1077.2L701.5 1078.9L704.3 1080.6L707.2 1082.2L710.0 1083.9L712.8 1085.4L715.7 1086.9L718.5 1088.2L721.3 1089.5L724.2 1090.7L727.0 1091.7L729.8 1092.5L732.7 1093.3L735.5 1093.9L738.3 1094.4L741.2 1094.8L744.0 1095.0L746.8 1095.2L749.7 1095.3L752.5 1095.3L755.3 1095.2L758.2 1095.1L761.0 1094.9L763.8 1094.7L766.7 1094.4L769.5 1094.1L772.3 1093.8L775.2 1093.5L778.0 1093.2L780.8 1092.8L783.7 1092.5L786.5 1092.2L789.3 1091.9L792.2 1091.7L795.0 1091.5L797.8 1091.3L800.7 1091.2L803.5 1091.2L806.3 1091.3L809.2 1091.4L812.0 1091.7L814.8 1092.0L817.7 1092.4L820.5 1093.0L823.3 1093.6L826.2 1094.3L829.0 1095.0L831.8 1095.9L834.7 1096.8L837.5 1097.7L840.3 1098.7L843.2 1099.8L846.0 1100.9L848.8 1102.0L851.7 1103.2L854.5 1104.4L857.3 1105.6L860.2 1106.8L863.0 1108.1L865.8 1109.3L868.7 1110.6L871.5 1111.8L874.3 1113.1L877.2 1114.3L880.0 1115.5L882.8 1116.7L885.7 1117.8L888.5 1118.9L891.3 1120.0L894.2 1121.0L897.0 1121.9L899.8 1122.8L902.7 1123.7L905.5 1124.5L908.3 1125.2L911.2 1125.9L914.0 1126.5L916.8 1127.1L919.7 1127.7L922.5 1128.1L925.3 1128.6L928.2 1129.0L931.0 1129.4L933.8 1129.7L936.7 1130.1L939.5 1130.3L942.3 1130.6L945.2 1130.8L948.0 1131.0L950.8 1131.1L953.7 1131.3L956.5 1131.4L959.3 1131.5L962.2 1131.6L965.0 1131.7L967.8 1131.7L970.7 1131.7L973.5 1131.8L976.3 1131.8L979.2 1131.8L982.0 1131.8L984.8 1131.8L987.7 1131.8L990.5 1131.8L993.3 1131.8L996.2 1131.8L999.0 1131.9L1001.8 1131.9L1004.7 1131.9L1007.5 1131.9L1010.3 1132.0L1013.2 1132.0L1016.0 1132.1L1018.8 1132.2L1021.7 1132.3L1024.5 1132.4L1027.3 1132.5L1030.2 1132.7L1033.0 1132.8L1035.8 1133.0L1038.7 1133.2L1041.5 1133.5L1044.3 1133.8L1047.2 1134.1L1050.0 1134.4L1052.8 1134.7L1055.7 1135.1L1058.5 1135.5L1061.3 1136.0L1064.2 1136.5L1067.0 1137.0L1069.8 1137.6L1072.7 1138.2L1075.5 1138.8L1078.3 1139.5L1081.2 1140.2L1084.0 1140.9L1086.8 1141.6L1089.7 1142.4L1092.5 1143.1L1095.3 1143.9L1098.2 1144.7L1101.0 1145.5L1103.8 1146.3L1106.7 1147.1L1109.5 1147.8L1112.3 1148.6L1115.2 1149.4L1118.0 1150.1L1120.8 1150.8L1123.7 1151.5L1126.5 1152.2L1129.3 1152.9L1132.2 1153.5L1135.0 1154.1L1137.8 1154.6L1140.7 1155.2L1143.5 1155.6L1146.3 1156.0L1149.2 1156.4L1152.0 1156.7L1154.8 1157.0L1157.7 1157.2L1160.5 1157.4L1163.3 1157.5L1166.2 1157.5L1169.0 1157.6L1171.8 1157.6L1174.7 1157.5L1177.5 1157.5L1180.3 1157.4L1183.2 1157.2L1186.0 1157.1L1188.8 1157.0L1191.7 1156.8L1194.5 1156.6L1197.3 1156.4L1200.2 1156.3L1203.0 1156.1L1205.8 1155.9L1208.7 1155.7L1211.5 1155.6L1214.3 1155.4L1217.2 1155.3L1220.0 1155.2L1222.8 1155.1L1225.7 1155.1L1228.5 1155.0L1231.3 1155.0L1234.2 1155.1L1237.0 1155.2L1239.8 1155.3L1242.7 1155.5L1245.5 1155.7L1248.3 1156.0L1251.2 1156.2L1254.0 1156.5L1256.8 1156.9L1259.7 1157.3L1262.5 1157.6L1265.3 1158.0L1268.2 1158.5L1271.0 1158.9L1273.8 1159.3L1276.7 1159.8L1279.5 1160.2L1282.3 1160.7L1285.2 1161.1L1288.0 1161.6L1290.8 1162.0L1293.7 1162.5L1296.5 1162.9L1299.3 1163.3L1302.2 1163.7L1305.0 1164.0L1307.8 1164.4L1310.7 1164.7L1313.5 1165.0L1316.3 1165.2L1319.2 1165.4L1322.0 1165.6L1324.8 1165.7L1327.7 1165.8L1330.5 1165.9L1333.3 1165.9L1336.2 1165.9L1339.0 1165.9L1341.8 1165.8L1344.7 1165.7L1347.5 1165.6L1350.3 1165.5L1353.2 1165.4L1356.0 1165.2L1358.8 1165.1L1361.7 1164.9L1364.5 1164.8L1367.3 1164.6L1370.2 1164.5L1373.0 1164.3L1375.8 1164.2L1378.7 1164.1L1381.5 1163.9L1384.3 1163.9L1387.2 1163.8L1390.0 1163.7L1392.8 1163.7L1395.7 1163.7L1398.5 1163.7L1401.3 1163.8L1404.2 1163.9L1407.0 1164.1L1409.8 1164.2L1412.7 1164.5L1415.5 1164.7L1418.3 1165.0L1421.2 1165.3L1424.0 1165.7L1426.8 1166.0L1429.7 1166.4L1432.5 1166.8L1435.3 1167.2L1438.2 1167.7L1441.0 1168.1L1443.8 1168.5L1446.7 1168.9L1449.5 1169.4L1452.3 1169.8L1455.2 1170.2L1458.0 1170.5L1460.8 1170.9L1463.7 1171.2L1466.5 1171.6L1469.3 1171.8L1472.2 1172.1L1475.0 1172.3L1477.8 1172.5L1480.7 1172.6L1483.5 1172.7L1486.3 1172.7L1489.2 1172.7L1492.0 1172.6L1494.8 1172.5L1497.7 1172.3L1500.5 1172.0L1503.3 1171.8L1506.2 1171.4L1509.0 1171.0L1511.8 1170.6L1514.7 1170.2L1517.5 1169.7L1520.3 1169.2L1523.2 1168.7L1526.0 1168.1L1528.8 1167.5L1531.7 1167.0L1534.5 1166.4L1537.3 1165.8L1540.2 1165.3L1543.0 1164.7L1545.8 1164.1L1548.7 1163.6L1551.5 1163.1L1554.3 1162.6L1557.2 1162.1L1560.0 1161.6L1562.8 1161.2L1565.7 1160.9L1568.5 1160.5L1571.3 1160.2L1574.2 1160.0L1577.0 1159.8L1579.8 1159.7L1582.7 1159.6L1585.5 1159.6L1588.3 1159.6L1591.2 1159.7L1594.0 1159.8L1596.8 1160.0L1599.7 1160.2L1602.5 1160.4L1605.3 1160.7L1608.2 1161.1L1611.0 1161.4L1613.8 1161.8L1616.7 1162.3L1619.5 1162.7L1622.3 1163.2L1625.2 1163.8L1628.0 1164.3L1630.8 1164.9L1633.7 1165.5L1636.5 1166.1L1639.3 1166.7L1642.2 1167.4L1645.0 1168.0L1647.8 1168.7L1650.7 1169.3L1653.5 1170.0L1656.3 1170.7L1659.2 1171.4L1662.0 1172.1" fill="none" stroke="#000" stroke-width="2.8" stroke-linejoin="round"/>
<g><path d="M302.0 66.8L317.7 75.9L317.7 93.9L302.0 103.0L286.3 93.9L286.3 75.9Z" fill="#f0f" stroke="#f0f" stroke-width="2" stroke-linejoin="round"/><path d="M387.0 702.7L402.7 711.8L402.7 729.8L387.0 738.9L371.3 729.8L371.3 711.8Z" fill="#f0f" stroke="#f0f" stroke-width="2" stroke-linejoin="round"/><path d="M472.0 869.0L487.7 878.1L487.7 896.1L472.0 905.2L456.3 896.1L456.3 878.1Z" fill="#f0f" stroke="#f0f" stroke-width="2" stroke-linejoin="round"/><path d="M557.0 1060.4L572.7 1069.5L572.7 1087.5L557.0 1096.6L541.3 1087.5L541.3 1069.5Z" fill="#f0f" stroke="#f0f" stroke-width="2" stroke-linejoin="round"/><path d="M642.0 1039.9L657.7 1049.0L657.7 1067.0L642.0 1076.1L626.3 1067.0L626.3 1049.0Z" fill="#f0f" stroke="#f0f" stroke-width="2" stroke-linejoin="round"/><path d="M727.0 1073.6L742.7 1082.7L742.7 1100.7L727.0 1109.8L711.3 1100.7L711.3 1082.7Z" fill="#f0f" stroke="#f0f" stroke-width="2" stroke-linejoin="round"/><path d="M812.0 1073.6L827.7 1082.7L827.7 1100.7L812.0 1109.8L796.3 1100.7L796.3 1082.7Z" fill="#f0f" stroke="#f0f" stroke-width="2" stroke-linejoin="round"/><path d="M897.0 1103.8L912.7 1112.9L912.7 1130.9L897.0 1140.0L881.3 1130.9L881.3 1112.9Z" fill="#f0f" stroke="#f0f" stroke-width="2" stroke-linejoin="round"/><path d="M982.0 1113.7L997.7 1122.8L997.7 1140.8L982.0 1149.9L966.3 1140.8L966.3 1122.8Z" fill="#f0f" stroke="#f0f" stroke-width="2" stroke-linejoin="round"/><path d="M1067.0 1118.9L1082.7 1128.0L1082.7 1146.0L1067.0 1155.1L1051.3 1146.0L1051.3 1128.0Z" fill="#f0f" stroke="#f0f" stroke-width="2" stroke-linejoin="round"/><path d="M1152.0 1138.6L1167.7 1147.7L1167.7 1165.7L1152.0 1174.8L1136.3 1165.7L1136.3 1147.7Z" fill="#f0f" stroke="#f0f" stroke-width="2" stroke-linejoin="round"/><path d="M1237.0 1137.1L1252.7 1146.2L1252.7 1164.2L1237.0 1173.3L1221.3 1164.2L1221.3 1146.2Z" fill="#f0f" stroke="#f0f" stroke-width="2" stroke-linejoin="round"/><path d="M1322.0 1147.5L1337.7 1156.6L1337.7 1174.6L1322.0 1183.7L1306.3 1174.6L1306.3 1156.6Z" fill="#f0f" stroke="#f0f" stroke-width="2" stroke-linejoin="round"/><path d="M1407.0 1146.0L1422.7 1155.1L1422.7 1173.1L1407.0 1182.2L1391.3 1173.1L1391.3 1155.1Z" fill="#f0f" stroke="#f0f" stroke-width="2" stroke-linejoin="round"/><path d="M1492.0 1154.5L1507.7 1163.6L1507.7 1181.6L1492.0 1190.7L1476.3 1181.6L1476.3 1163.6Z" fill="#f0f" stroke="#f0f" stroke-width="2" stroke-linejoin="round"/><path d="M1577.0 1141.7L1592.7 1150.8L1592.7 1168.8L1577.0 1177.9L1561.3 1168.8L1561.3 1150.8Z" fill="#f0f" stroke="#f0f" stroke-width="2" stroke-linejoin="round"/><path d="M1662.0 1154.0L1677.7 1163.1L1677.7 1181.1L1662.0 1190.2L1646.3 1181.1L1646.3 1163.1Z" fill="#f0f" stroke="#f0f" stroke-width="2" stroke-linejoin="round"/></g>
<path d="M302.0 629.6L304.8 652.5L307.7 675.3L310.5 698.0L313.3 720.6L316.2 743.1L319.0 765.4L321.8 787.5L324.7 809.4L327.5 831.0L330.3 852.3L333.2 873.2L336.0 893.8L338.8 913.9L341.7 933.6L344.5 952.9L347.3 971.6L350.2 989.7L353.0 1007.3L355.8 1024.3L358.7 1040.6L361.5 1056.2L364.3 1071.1L367.2 1085.2L370.0 1098.6L372.8 1111.1L375.7 1122.7L378.5 1133.5L381.3 1143.3L384.2 1152.2L387.0 1160.1L389.8 1167.0L392.7 1172.8L395.5 1177.8L398.3 1181.8L401.2 1185.0L404.0 1187.4L406.8 1189.1L409.7 1190.0L412.5 1190.3L415.3 1189.9L418.2 1189.0L421.0 1187.6L423.8 1185.7L426.7 1183.4L429.5 1180.7L432.3 1177.6L435.2 1174.3L438.0 1170.7L440.8 1166.9L443.7 1163.0L446.5 1159.0L449.3 1154.9L452.2 1150.8L455.0 1146.7L457.8 1142.7L460.7 1138.8L463.5 1135.2L466.3 1131.7L469.2 1128.5L472.0 1125.6L474.8 1123.0L477.7 1120.8L480.5 1119.0L483.3 1117.4L486.2 1116.1L489.0 1115.1L491.8 1114.4L494.7 1113.9L497.5 1113.7L500.3 1113.6L503.2 1113.8L506.0 1114.1L508.8 1114.6L511.7 1115.3L514.5 1116.1L517.3 1117.0L520.2 1118.0L523.0 1119.1L525.8 1120.3L528.7 1121.5L531.5 1122.7L534.3 1124.0L537.2 1125.3L540.0 1126.6L542.8 1127.8L545.7 1129.0L548.5 1130.2L551.3 1131.2L554.2 1132.2L557.0 1133.1L559.8 1133.8L562.7 1134.4L565.5 1135.0L568.3 1135.4L571.2 1135.7L574.0 1135.9L576.8 1136.0L579.7 1136.0L582.5 1135.9L585.3 1135.8L588.2 1135.6L591.0 1135.3L593.8 1135.0L596.7 1134.5L599.5 1134.1L602.3 1133.6L605.2 1133.0L608.0 1132.4L610.8 1131.8L613.7 1131.1L616.5 1130.4L619.3 1129.7L622.2 1129.0L625.0 1128.2L627.8 1127.5L630.7 1126.7L633.5 1126.0L636.3 1125.3L639.2 1124.5L642.0 1123.8L644.8 1123.2L647.7 1122.5L650.5 1121.9L653.3 1121.2L656.2 1120.6L659.0 1120.1L661.8 1119.5L664.7 1119.0L667.5 1118.4L670.3 1117.9L673.2 1117.4L676.0 1116.9L678.8 1116.5L681.7 1116.0L684.5 1115.6L687.3 1115.1L690.2 1114.7L693.0 1114.3L695.8 1113.9L698.7 1113.5L701.5 1113.1L704.3 1112.7L707.2 1112.4L710.0 1112.0L712.8 1111.6L715.7 1111.2L718.5 1110.9L721.3 1110.5L724.2 1110.1L727.0 1109.8L729.8 1109.4L732.7 1109.0L735.5 1108.7L738.3 1108.3L741.2 1107.9L744.0 1107.5L746.8 1107.2L749.7 1106.8L752.5 1106.4L755.3 1106.0L758.2 1105.6L761.0 1105.3L763.8 1104.9L766.7 1104.5L769.5 1104.1L772.3 1103.8L775.2 1103.4L778.0 1103.0L780.8 1102.6L783.7 1102.2L786.5 1101.9L789.3 1101.5L792.2 1101.1L795.0 1100.7L797.8 1100.3L800.7 1100.0L803.5 1099.6L806.3 1099.2L809.2 1098.9L812.0 1098.5L814.8 1098.1L817.7 1097.7L820.5 1097.4L823.3 1097.0L826.2 1096.7L829.0 1096.3L831.8 1095.9L834.7 1095.6L837.5 1095.2L840.3 1094.9L843.2 1094.5L846.0 1094.2L848.8 1093.9L851.7 1093.5L854.5 1093.2L857.3 1092.9L860.2 1092.5L863.0 1092.2L865.8 1091.9L868.7 1091.6L871.5 1091.3L874.3 1091.0L877.2 1090.7L880.0 1090.4L882.8 1090.1L885.7 1089.9L888.5 1089.6L891.3 1089.3L894.2 1089.1L897.0 1088.8L899.8 1088.6L902.7 1088.3L905.5 1088.1L908.3 1087.9L911.2 1087.7L914.0 1087.5L916.8 1087.3L919.7 1087.2L922.5 1087.1L925.3 1087.0L928.2 1086.9L931.0 1086.8L933.8 1086.8L936.7 1086.8L939.5 1086.8L942.3 1086.9L945.2 1086.9L948.0 1087.1L950.8 1087.2L953.7 1087.4L956.5 1087.7L959.3 1087.9L962.2 1088.2L965.0 1088.6L967.8 1089.0L970.7 1089.5L973.5 1090.0L976.3 1090.5L979.2 1091.2L982.0 1091.8L984.8 1092.5L987.7 1093.3L990.5 1094.1L993.3 1095.0L996.2 1095.9L999.0 1096.8L1001.8 1097.7L1004.7 1098.7L1007.5 1099.7L1010.3 1100.7L1013.2 1101.7L1016.0 1102.7L1018.8 1103.7L1021.7 1104.8L1024.5 1105.7L1027.3 1106.7L1030.2 1107.7L1033.0 1108.6L1035.8 1109.5L1038.7 1110.4L1041.5 1111.2L1044.3 1111.9L1047.2 1112.7L1050.0 1113.3L1052.8 1113.9L1055.7 1114.5L1058.5 1115.0L1061.3 1115.4L1064.2 1115.7L1067.0 1115.9L1069.8 1116.1L1072.7 1116.1L1075.5 1116.1L1078.3 1116.0L1081.2 1115.9L1084.0 1115.7L1086.8 1115.4L1089.7 1115.1L1092.5 1114.7L1095.3 1114.3L1098.2 1113.8L1101.0 1113.4L1103.8 1112.9L1106.7 1112.4L1109.5 1111.8L1112.3 1111.3L1115.2 1110.8L1118.0 1110.2L1120.8 1109.7L1123.7 1109.2L1126.5 1108.7L1129.3 1108.2L1132.2 1107.8L1135.0 1107.4L1137.8 1107.1L1140.7 1106.8L1143.5 1106.5L1146.3 1106.3L1149.2 1106.2L1152.0 1106.1L1154.8 1106.1L1157.7 1106.2L1160.5 1106.3L1163.3 1106.6L1166.2 1106.9L1169.0 1107.2L1171.8 1107.6L1174.7 1108.1L1177.5 1108.6L1180.3 1109.2L1183.2 1109.9L1186.0 1110.6L1188.8 1111.4L1191.7 1112.2L1194.5 1113.1L1197.3 1114.0L1200.2 1114.9L1203.0 1115.9L1205.8 1117.0L1208.7 1118.1L1211.5 1119.2L1214.3 1120.4L1217.2 1121.6L1220.0 1122.8L1222.8 1124.1L1225.7 1125.4L1228.5 1126.7L1231.3 1128.1L1234.2 1129.5L1237.0 1130.9L1239.8 1132.3L1242.7 1133.7L1245.5 1135.2L1248.3 1136.7L1251.2 1138.1L1254.0 1139.6L1256.8 1141.0L1259.7 1142.5L1262.5 1143.9L1265.3 1145.3L1268.2 1146.7L1271.0 1148.0L1273.8 1149.3L1276.7 1150.6L1279.5 1151.8L1282.3 1152.9L1285.2 1154.0L1288.0 1155.0L1290.8 1156.0L1293.7 1156.9L1296.5 1157.6L1299.3 1158.4L1302.2 1159.0L1305.0 1159.5L1307.8 1159.9L1310.7 1160.3L1313.5 1160.5L1316.3 1160.6L1319.2 1160.5L1322.0 1160.4L1324.8 1160.1L1327.7 1159.7L1330.5 1159.2L1333.3 1158.6L1336.2 1157.8L1339.0 1157.0L1341.8 1156.2L1344.7 1155.2L1347.5 1154.2L1350.3 1153.1L1353.2 1152.0L1356.0 1150.9L1358.8 1149.7L1361.7 1148.5L1364.5 1147.3L1367.3 1146.1L1370.2 1144.9L1373.0 1143.7L1375.8 1142.6L1378.7 1141.4L1381.5 1140.4L1384.3 1139.3L1387.2 1138.4L1390.0 1137.5L1392.8 1136.7L1395.7 1136.0L1398.5 1135.3L1401.3 1134.8L1404.2 1134.4L1407.0 1134.1L1409.8 1133.9L1412.7 1133.9L1415.5 1134.0L1418.3 1134.1L1421.2 1134.4L1424.0 1134.8L1426.8 1135.3L1429.7 1135.8L1432.5 1136.4L1435.3 1137.1L1438.2 1137.8L1441.0 1138.6L1443.8 1139.4L1446.7 1140.2L1449.5 1141.1L1452.3 1142.0L1455.2 1142.9L1458.0 1143.8L1460.8 1144.7L1463.7 1145.6L1466.5 1146.5L1469.3 1147.3L1472.2 1148.1L1475.0 1148.9L1477.8 1149.6L1480.7 1150.2L1483.5 1150.8L1486.3 1151.3L1489.2 1151.8L1492.0 1152.1L1494.8 1152.4L1497.7 1152.5L1500.5 1152.6L1503.3 1152.6L1506.2 1152.6L1509.0 1152.4L1511.8 1152.2L1514.7 1152.0L1517.5 1151.7L1520.3 1151.3L1523.2 1150.9L1526.0 1150.5L1528.8 1150.1L1531.7 1149.6L1534.5 1149.2L1537.3 1148.7L1540.2 1148.2L1543.0 1147.7L1545.8 1147.2L1548.7 1146.7L1551.5 1146.3L1554.3 1145.9L1557.2 1145.5L1560.0 1145.1L1562.8 1144.8L1565.7 1144.5L1568.5 1144.3L1571.3 1144.2L1574.2 1144.1L1577.0 1144.1L1579.8 1144.1L1582.7 1144.2L1585.5 1144.4L1588.3 1144.7L1591.2 1145.0L1594.0 1145.4L1596.8 1145.9L1599.7 1146.4L1602.5 1147.0L1605.3 1147.6L1608.2 1148.2L1611.0 1149.0L1613.8 1149.7L1616.7 1150.5L1619.5 1151.4L1622.3 1152.3L1625.2 1153.2L1628.0 1154.2L1630.8 1155.1L1633.7 1156.2L1636.5 1157.2L1639.3 1158.3L1642.2 1159.3L1645.0 1160.4L1647.8 1161.6L1650.7 1162.7L1653.5 1163.8L1656.3 1165.0L1659.2 1166.1L1662.0 1167.3" fill="none" stroke="#000" stroke-width="2.8" stroke-linejoin="round"/>
<g><circle cx="302.0" cy="629.6" r="17.2" fill="#008000"/><circle cx="297.4" cy="625.1" r="8.8" fill="#2db770"/><circle cx="297.4" cy="625.1" r="6.3" fill="#a6dcba"/><circle cx="297.4" cy="625.1" r="3.5" fill="#f8fcf9"/><circle cx="387.0" cy="1160.1" r="17.2" fill="#008000"/><circle cx="382.4" cy="1155.6" r="8.8" fill="#2db770"/><circle cx="382.4" cy="1155.6" r="6.3" fill="#a6dcba"/><circle cx="382.4" cy="1155.6" r="3.5" fill="#f8fcf9"/><circle cx="472.0" cy="1125.6" r="17.2" fill="#008000"/><circle cx="467.4" cy="1121.1" r="8.8" fill="#2db770"/><circle cx="467.4" cy="1121.1" r="6.3" fill="#a6dcba"/><circle cx="467.4" cy="1121.1" r="3.5" fill="#f8fcf9"/><circle cx="557.0" cy="1133.1" r="17.2" fill="#008000"/><circle cx="552.4" cy="1128.6" r="8.8" fill="#2db770"/><circle cx="552.4" cy="1128.6" r="6.3" fill="#a6dcba"/><circle cx="552.4" cy="1128.6" r="3.5" fill="#f8fcf9"/><circle cx="642.0" cy="1123.8" r="17.2" fill="#008000"/><circle cx="637.4" cy="1119.3" r="8.8" fill="#2db770"/><circle cx="637.4" cy="1119.3" r="6.3" fill="#a6dcba"/><circle cx="637.4" cy="1119.3" r="3.5" fill="#f8fcf9"/><circle cx="727.0" cy="1109.8" r="17.2" fill="#008000"/><circle cx="722.4" cy="1105.3" r="8.8" fill="#2db770"/><circle cx="722.4" cy="1105.3" r="6.3" fill="#a6dcba"/><circle cx="722.4" cy="1105.3" r="3.5" fill="#f8fcf9"/><circle cx="812.0" cy="1098.5" r="17.2" fill="#008000"/><circle cx="807.4" cy="1094.0" r="8.8" fill="#2db770"/><circle cx="807.4" cy="1094.0" r="6.3" fill="#a6dcba"/><circle cx="807.4" cy="1094.0" r="3.5" fill="#f8fcf9"/><circle cx="897.0" cy="1088.8" r="17.2" fill="#008000"/><circle cx="892.4" cy="1084.3" r="8.8" fill="#2db770"/><circle cx="892.4" cy="1084.3" r="6.3" fill="#a6dcba"/><circle cx="892.4" cy="1084.3" r="3.5" fill="#f8fcf9"/><circle cx="982.0" cy="1091.8" r="17.2" fill="#008000"/><circle cx="977.4" cy="1087.3" r="8.8" fill="#2db770"/><circle cx="977.4" cy="1087.3" r="6.3" fill="#a6dcba"/><circle cx="977.4" cy="1087.3" r="3.5" fill="#f8fcf9"/><circle cx="1067.0" cy="1115.9" r="17.2" fill="#008000"/><circle cx="1062.4" cy="1111.4" r="8.8" fill="#2db770"/><circle cx="1062.4" cy="1111.4" r="6.3" fill="#a6dcba"/><circle cx="1062.4" cy="1111.4" r="3.5" fill="#f8fcf9"/><circle cx="1152.0" cy="1106.1" r="17.2" fill="#008000"/><circle cx="1147.4" cy="1101.6" r="8.8" fill="#2db770"/><circle cx="1147.4" cy="1101.6" r="6.3" fill="#a6dcba"/><circle cx="1147.4" cy="1101.6" r="3.5" fill="#f8fcf9"/><circle cx="1237.0" cy="1130.9" r="17.2" fill="#008000"/><circle cx="1232.4" cy="1126.4" r="8.8" fill="#2db770"/><circle cx="1232.4" cy="1126.4" r="6.3" fill="#a6dcba"/><circle cx="1232.4" cy="1126.4" r="3.5" fill="#f8fcf9"/><circle cx="1322.0" cy="1160.4" r="17.2" fill="#008000"/><circle cx="1317.4" cy="1155.9" r="8.8" fill="#2db770"/><circle cx="1317.4" cy="1155.9" r="6.3" fill="#a6dcba"/><circle cx="1317.4" cy="1155.9" r="3.5" fill="#f8fcf9"/><circle cx="1407.0" cy="1134.1" r="17.2" fill="#008000"/><circle cx="1402.4" cy="1129.6" r="8.8" fill="#2db770"/><circle cx="1402.4" cy="1129.6" r="6.3" fill="#a6dcba"/><circle cx="1402.4" cy="1129.6" r="3.5" fill="#f8fcf9"/><circle cx="1492.0" cy="1152.1" r="17.2" fill="#008000"/><circle cx="1487.4" cy="1147.6" r="8.8" fill="#2db770"/><circle cx="1487.4" cy="1147.6" r="6.3" fill="#a6dcba"/><circle cx="1487.4" cy="1147.6" r="3.5" fill="#f8fcf9"/><circle cx="1577.0" cy="1144.1" r="17.2" fill="#008000"/><circle cx="1572.4" cy="1139.6" r="8.8" fill="#2db770"/><circle cx="1572.4" cy="1139.6" r="6.3" fill="#a6dcba"/><circle cx="1572.4" cy="1139.6" r="3.5" fill="#f8fcf9"/><circle cx="1662.0" cy="1167.3" r="17.2" fill="#008000"/><circle cx="1657.4" cy="1162.8" r="8.8" fill="#2db770"/><circle cx="1657.4" cy="1162.8" r="6.3" fill="#a6dcba"/><circle cx="1657.4" cy="1162.8" r="3.5" fill="#f8fcf9"/></g>
<g shape-rendering="crispEdges">
<path d="M214 33H1750V1285H214Z M220 40H1744V1278.7H220Z" fill="#000" fill-rule="evenodd"/>
<rect x="299.1" y="1255" width="5.8" height="25" fill="#000"/>
<rect x="469.1" y="1255" width="5.8" height="25" fill="#000"/>
<rect x="639.1" y="1255" width="5.8" height="25" fill="#000"/>
<rect x="809.1" y="1255" width="5.8" height="25" fill="#000"/>
<rect x="979.1" y="1255" width="5.8" height="25" fill="#000"/>
<rect x="1149.1" y="1255" width="5.8" height="25" fill="#000"/>
<rect x="1319.1" y="1255" width="5.8" height="25" fill="#000"/>
<rect x="1489.1" y="1255" width="5.8" height="25" fill="#000"/>
<rect x="1659.1" y="1255" width="5.8" height="25" fill="#000"/>
<rect x="219" y="1131.3" width="25" height="6.8" fill="#000"/>
<rect x="219" y="984.8" width="25" height="6.8" fill="#000"/>
<rect x="219" y="838.4" width="25" height="6.8" fill="#000"/>
<rect x="219" y="691.9" width="25" height="6.8" fill="#000"/>
<rect x="219" y="545.5" width="25" height="6.8" fill="#000"/>
<rect x="219" y="399.0" width="25" height="6.8" fill="#000"/>
<rect x="219" y="252.5" width="25" height="6.8" fill="#000"/>
<rect x="219" y="106.1" width="25" height="6.8" fill="#000"/>
</g>
<text transform="translate(289.35,1344.80) scale(0.9670,1)" font-size="73">0</text>
<text transform="translate(440.60,1344.80) scale(0.9650,1)" font-size="73">20</text>
<text transform="translate(610.38,1344.80) scale(0.9694,1)" font-size="73">40</text>
<text transform="translate(780.73,1344.80) scale(0.9574,1)" font-size="73">60</text>
<text transform="translate(950.78,1344.80) scale(0.9650,1)" font-size="73">80</text>
<text transform="translate(1105.10,1344.80) scale(0.9544,1)" font-size="73">100</text>
<text transform="translate(1275.19,1344.80) scale(0.9415,1)" font-size="73">120</text>
<text transform="translate(1445.32,1344.80) scale(0.9400,1)" font-size="73">140</text>
<text transform="translate(1614.79,1344.80) scale(0.9405,1)" font-size="73">160</text>
<text transform="translate(151.31,1157.10) scale(1.0619,1)" font-size="73">2</text>
<text transform="translate(151.16,1010.64) scale(0.9700,1)" font-size="73">4</text>
<text transform="translate(152.22,864.18) scale(0.9700,1)" font-size="73">6</text>
<text transform="translate(152.75,717.72) scale(0.9700,1)" font-size="73">8</text>
<text transform="translate(120.07,571.26) scale(0.9284,1)" font-size="73">10</text>
<text transform="translate(119.95,424.80) scale(0.9473,1)" font-size="73">12</text>
<text transform="translate(120.22,278.34) scale(0.9051,1)" font-size="73">14</text>
<text transform="translate(120.12,131.88) scale(0.9205,1)" font-size="73">16</text>
<text transform="translate(549.03,1426.70) scale(0.9973,1)" font-size="77">Cumulative heating time (h)</text>
<g transform="translate(99,984.33) rotate(-90) scale(0.9943,1)" font-size="78"><text x="0" y="0">EC value (mS•cm</text><text x="560.22" y="-29">-1</text><text x="625.19" y="0">)</text></g>
<text transform="translate(462.22,212.10) scale(0.9650,1)" font-size="73" font-style="italic">T</text>
<text transform="translate(497.41,231.50) scale(1.2000,1)" font-size="49" font-style="italic">f</text>
<text transform="translate(511.49,212.10) scale(0.9624,1)" font-size="73">=150°C</text>
<text transform="translate(460.38,314.70) scale(0.9554,1)" font-size="73">Red mud cover</text>
<rect x="1157" y="107.6" width="60" height="2.6" fill="#000"/>
<rect x="1256" y="107.6" width="60" height="2.6" fill="#000"/>
<rect x="1221.2" y="93.9" width="30" height="30" fill="#000"/>
<text transform="translate(1332.09,132.60) scale(0.9634,1)" font-size="73">CG:RM(12:1)</text>
<rect x="1157" y="195.0" width="60" height="2.6" fill="#000"/>
<rect x="1256" y="195.0" width="60" height="2.6" fill="#000"/>
<path d="M1236.2 174.3L1254.8 208.1L1217.6 208.1Z" fill="#f00" stroke="#f00" stroke-width="2" stroke-linejoin="round"/>
<text transform="translate(1332.79,220.20) scale(0.9625,1)" font-size="73">CG:RM(8:1)</text>
<rect x="1157" y="282.4" width="60" height="2.6" fill="#000"/>
<rect x="1256" y="282.4" width="60" height="2.6" fill="#000"/>
<path d="M1236.2 263.1L1256.2 283.7L1236.2 304.3L1216.2 283.7Z" fill="#00f" stroke="#00f" stroke-width="2" stroke-linejoin="round"/>
<text transform="translate(1332.79,307.80) scale(0.9612,1)" font-size="73">CG:RM(5:1)</text>
<rect x="1157" y="369.8" width="60" height="2.6" fill="#000"/>
<rect x="1256" y="369.8" width="60" height="2.6" fill="#000"/>
<path d="M1236.2 353.0L1251.9 362.1L1251.9 380.1L1236.2 389.2L1220.5 380.1L1220.5 362.1Z" fill="#f0f" stroke="#f0f" stroke-width="2" stroke-linejoin="round"/>
<text transform="translate(1332.79,395.40) scale(0.9612,1)" font-size="73">CG:RM(3:1)</text>
<rect x="1157" y="457.2" width="60" height="2.6" fill="#000"/>
<rect x="1256" y="457.2" width="60" height="2.6" fill="#000"/>
<circle cx="1236.2" cy="458.5" r="17.2" fill="#008000"/><circle cx="1231.6" cy="454.0" r="8.8" fill="#2db770"/><circle cx="1231.6" cy="454.0" r="6.3" fill="#a6dcba"/><circle cx="1231.6" cy="454.0" r="3.5" fill="#f8fcf9"/>
<text transform="translate(1332.79,483.00) scale(0.9617,1)" font-size="73">Coal gangue</text>
</svg>
</body></html>
